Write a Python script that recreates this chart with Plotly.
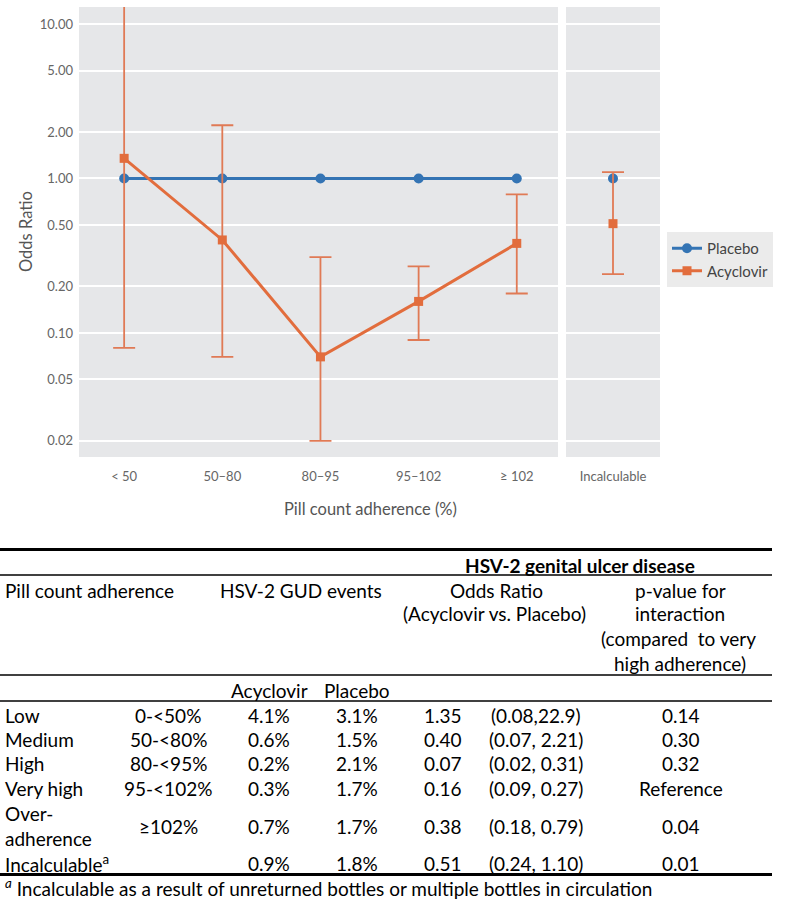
import plotly.graph_objects as go

# ---------------- data ----------------
categories = ["< 50", "50–80", "80–95", "95–102", "≥ 102"]
placebo_or = [1.0, 1.0, 1.0, 1.0, 1.0]
acyclovir_or = [1.35, 0.40, 0.07, 0.16, 0.38]
acyclovir_lo = [0.08, 0.07, 0.02, 0.09, 0.18]
acyclovir_hi = [22.9, 2.21, 0.31, 0.27, 0.79]

incalc_label = ["Incalculable"]
incalc_placebo_or = [1.0]
incalc_acyclovir_or = [0.51]
incalc_acyclovir_lo = [0.24]
incalc_acyclovir_hi = [1.10]

y_tick_vals = [0.02, 0.05, 0.10, 0.20, 0.50, 1.00, 2.00, 5.00, 10.00]
y_tick_text = ["0.02", "0.05", "0.10", "0.20", "0.50", "1.00", "2.00", "5.00", "10.00"]

table_levels = ["Low", "Medium", "High", "Very high", "Over-<br>adherence", "Incalculable<sup>a</sup>"]
table_ranges = ["0-<50%", "50-<80%", "80-<95%", "95-<102%", "≥102%", ""]
table_acyc_events = ["4.1%", "0.6%", "0.2%", "0.3%", "0.7%", "0.9%"]
table_plac_events = ["3.1%", "1.5%", "2.1%", "1.7%", "1.7%", "1.8%"]
table_or = ["1.35", "0.40", "0.07", "0.16", "0.38", "0.51"]
table_ci = ["(0.08,22.9)", "(0.07, 2.21)", "(0.02, 0.31)", "(0.09, 0.27)", "(0.18, 0.79)", "(0.24, 1.10)"]
table_p = ["0.14", "0.30", "0.32", "Reference", "0.04", "0.01"]
footnote = "<i><sup>a</sup></i> Incalculable as a result of unreturned bottles or multiple bottles in circulation"

# ---------------- style ----------------
W, H = 800, 900
BLUE = "#3474b4"
ORANGE = "#e26d3d"
ORANGE_ERR = "#e07a55"
PANEL = "#e6e7e9"
CHART_FONT = "Lato"
TABLE_FONT = "Lato"


def px(x):
    return x / W


def py(y):
    return 1 - y / H


def err(vals, lo, hi):
    return dict(type="data", symmetric=False,
                array=[h - v for v, h in zip(vals, hi)],
                arrayminus=[v - l for v, l in zip(vals, lo)],
                color=ORANGE_ERR, thickness=1.8, width=11)


fig = go.Figure()

fig.add_trace(go.Scatter(x=categories, y=placebo_or, name="Placebo", mode="lines+markers",
                         line=dict(color=BLUE, width=3), marker=dict(symbol="circle", size=10, color=BLUE),
                         xaxis="x", yaxis="y"))
fig.add_trace(go.Scatter(x=categories, y=acyclovir_or, name="Acyclovir", mode="lines+markers",
                         line=dict(color=ORANGE, width=3), marker=dict(symbol="square", size=9, color=ORANGE),
                         error_y=err(acyclovir_or, acyclovir_lo, acyclovir_hi),
                         xaxis="x", yaxis="y"))
fig.add_trace(go.Scatter(x=incalc_label, y=incalc_placebo_or, name="Placebo", mode="markers",
                         marker=dict(symbol="circle", size=10, color=BLUE), showlegend=False,
                         xaxis="x2", yaxis="y2"))
fig.add_trace(go.Scatter(x=incalc_label, y=incalc_acyclovir_or, name="Acyclovir", mode="markers",
                         marker=dict(symbol="square", size=9, color=ORANGE), showlegend=False,
                         error_y=err(incalc_acyclovir_or, incalc_acyclovir_lo, incalc_acyclovir_hi),
                         xaxis="x2", yaxis="y2"))

tickfont = dict(family=CHART_FONT, size=13, color="#666666")
y_range = [-1.803, 1.110]
y_domain = [py(457), py(7)]

fig.update_layout(
    width=W, height=H,
    margin=dict(l=0, r=0, t=0, b=0),
    paper_bgcolor="white", plot_bgcolor=PANEL,
    font=dict(family=CHART_FONT, color="#444444"),
    xaxis=dict(domain=[px(79), px(558)], type="category", range=[-0.46, 4.42],
               showgrid=False, zeroline=False, ticks="", tickfont=tickfont,
               ticklabelstandoff=10, anchor="y"),
    xaxis2=dict(domain=[px(566), px(660)], type="category", range=[-0.5, 0.5],
                showgrid=False, zeroline=False, ticks="", tickfont=tickfont,
                ticklabelstandoff=10, anchor="y2"),
    yaxis=dict(domain=y_domain, type="log", range=y_range, tickvals=y_tick_vals, ticktext=y_tick_text,
               gridcolor="white", gridwidth=1.5, zeroline=False, ticks="", tickfont=tickfont,
               ticklabelstandoff=5, anchor="x"),
    yaxis2=dict(domain=y_domain, type="log", range=y_range, tickvals=y_tick_vals,
                gridcolor="white", gridwidth=1.5, zeroline=False, showticklabels=False,
                ticks="", anchor="x2", matches="y"),
    legend=dict(x=px(667), y=py(232), xanchor="left", yanchor="top",
                bgcolor="#ebebeb", font=dict(family=CHART_FONT, size=15, color="#444444"),
                tracegroupgap=0, itemwidth=30),
    showlegend=True,
)

annotations = []
# axis titles
annotations.append(dict(x=px(26), y=py(232), xref="paper", yref="paper", text="Odds Ratio",
                        textangle=-90, showarrow=False, xanchor="center", yanchor="middle",
                        font=dict(family=CHART_FONT, size=16.5, color="#555555")))
annotations.append(dict(x=px(370), y=py(509), xref="paper", yref="paper", text="Pill count adherence (%)",
                        showarrow=False, xanchor="center", yanchor="middle",
                        font=dict(family=CHART_FONT, size=16.5, color="#555555")))

TF = dict(family=TABLE_FONT, size=19, color="black")


def txt(x, y, s, anchor="center", bold=False):
    if not s:
        return
    if bold:
        s = "<b>" + s + "</b>"
    annotations.append(dict(x=px(x), y=py(y), xref="paper", yref="paper", text=s, showarrow=False,
                            xanchor=anchor, yanchor="middle", font=dict(TF)))


# table header
txt(580, 565, "HSV-2 genital ulcer disease", bold=True)
txt(3, 590, "Pill count adherence", anchor="left")
txt(218, 590, "HSV-2 GUD events", anchor="left")
txt(496, 590, "Odds Ratio")
txt(494, 613, "(Acyclovir vs. Placebo)")
txt(680, 590, "p-value for")
txt(680, 613, "interaction")
txt(678, 638, "(compared  to very")
txt(680, 663, "high adherence)")
txt(269, 690, "Acyclovir")
txt(357, 690, "Placebo")

row_y = [715, 739, 763, 788, 826, 863]
for i, y in enumerate(row_y):
    if "<br>" in table_levels[i]:
        parts = table_levels[i].split("<br>")
        txt(3, y - 12.5, parts[0], anchor="left")
        txt(3, y + 12.5, parts[1], anchor="left")
    else:
        txt(3, y, table_levels[i], anchor="left")
    txt(168, y, table_ranges[i])
    txt(269, y, table_acyc_events[i])
    txt(357, y, table_plac_events[i])
    txt(443, y, table_or[i])
    txt(536, y, table_ci[i])
    txt(681, y, table_p[i])

txt(3, 887, footnote, anchor="left")

fig.update_layout(annotations=annotations)

shapes = []
for y, w in [(549.5, 3), (575, 1.5), (675, 1.5), (701, 1.5), (874.5, 3)]:
    shapes.append(dict(type="line", xref="paper", yref="paper", x0=0, x1=px(772), y0=py(y), y1=py(y),
                       line=dict(color="black", width=w)))
fig.update_layout(shapes=shapes)

# remove the default page margin so the 800x900 figure fills the window exactly
fig.write_html("out.html",
               config={"displayModeBar": False},
               post_script="document.body.style.margin='0';document.body.style.overflow='hidden';")
